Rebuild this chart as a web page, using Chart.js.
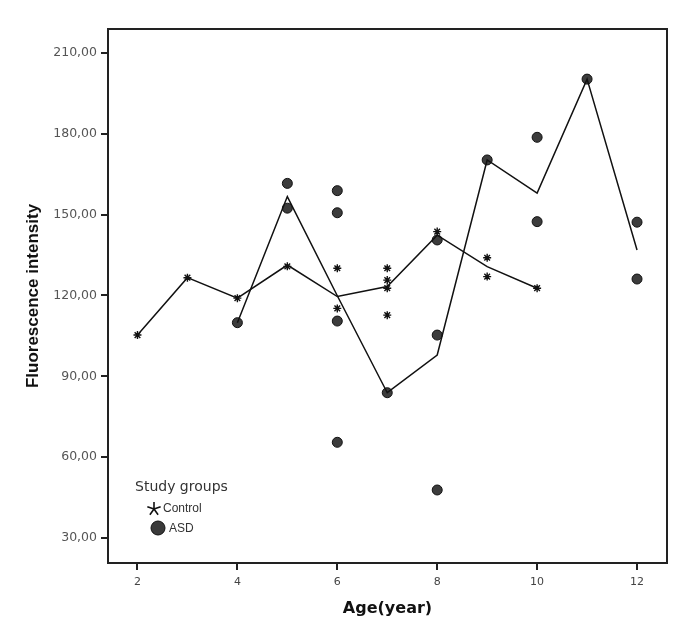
<!DOCTYPE html>
<html>
<head>
<meta charset="utf-8">
<script src="https://cdn.jsdelivr.net/npm/chart.js@4.4.1/dist/chart.umd.min.js"></script>
<style>
html,body{margin:0;padding:0;background:#fff;}
#wrap{width:685px;height:638px;}
</style>
</head>
<body>
<div id="wrap"><canvas id="c" width="685" height="638"></canvas></div>
<script>
// ---- data ----
const xTicks = [2, 4, 6, 8, 10, 12];
const yTicks = [30, 60, 90, 120, 150, 180, 210];

const controlAges   = [2, 3, 4, 5, 6, 6, 7, 7, 7, 7, 8, 9, 9, 10];
const controlValues = [105.3, 126.6, 119.0, 130.8, 130.1, 115.2, 130.1, 125.7, 122.7, 112.7, 143.7, 134.0, 127.0, 122.7];

const asdAges   = [4, 5, 5, 6, 6, 6, 6, 7, 8, 8, 8, 9, 10, 10, 11, 12, 12];
const asdValues = [109.9, 161.6, 152.4, 158.9, 150.7, 110.5, 65.5, 83.9, 140.6, 105.3, 47.8, 170.3, 178.7, 147.4, 200.3, 147.2, 126.1];

const controlMeanAges   = [2, 3, 4, 5, 6, 7, 8, 9, 10];
const controlMeanValues = [105.3, 126.6, 119.0, 131.3, 119.6, 123.3, 142.4, 130.7, 122.7];

const asdMeanAges   = [4, 5, 6, 7, 8, 9, 10, 11, 12];
const asdMeanValues = [109.9, 156.7, 119.9, 83.9, 97.9, 170.3, 158.0, 200.3, 136.9];

const legendTitle = 'Study groups';
const legendLabels = ['Control', 'ASD'];
const xTitle = 'Age(year)';
const yTitle = 'Fluorescence intensity';

const pts = (xs, ys) => xs.map((x, i) => ({x: x, y: ys[i]}));

const FONT = 'Arial, "Liberation Sans", sans-serif';
const WIDE = '"DejaVu Sans", Verdana, sans-serif';

const framePlugin = {
  id: 'frame',
  afterDatasetsDraw(chart) {
    const {ctx, chartArea: a} = chart;
    ctx.save();
    ctx.strokeStyle = '#222';
    ctx.lineWidth = 2;
    ctx.strokeRect(a.left, a.top, a.right - a.left, a.bottom - a.top);
    ctx.restore();
  }
};

const legendPlugin = {
  id: 'customLegend',
  afterDatasetsDraw(chart) {
    const {ctx, chartArea: a} = chart;
    ctx.save();
    ctx.fillStyle = '#333';
    ctx.textBaseline = 'middle';
    ctx.textAlign = 'left';
    ctx.font = '14px ' + WIDE;
    ctx.fillText(legendTitle, a.left + 27, a.top + 458);
    // star marker
    const sx = a.left + 46, sy = a.top + 480;
    ctx.strokeStyle = '#111';
    ctx.lineWidth = 1.6;
    ctx.beginPath();
    for (let k = 0; k < 5; k++) {
      const ang = -Math.PI / 2 + k * 2 * Math.PI / 5;
      ctx.moveTo(sx, sy);
      ctx.lineTo(sx + 7 * Math.cos(ang), sy + 7 * Math.sin(ang));
    }
    ctx.stroke();
    ctx.fillStyle = '#333';
    ctx.font = '12px ' + FONT;
    ctx.fillText(legendLabels[0], a.left + 55, a.top + 480);
    // circle marker
    ctx.beginPath();
    ctx.arc(a.left + 50, a.top + 499, 7, 0, Math.PI * 2);
    ctx.fillStyle = '#3a3a3a';
    ctx.fill();
    ctx.strokeStyle = '#111';
    ctx.lineWidth = 1;
    ctx.stroke();
    ctx.fillStyle = '#333';
    ctx.fillText(legendLabels[1], a.left + 61, a.top + 500);
    ctx.restore();
  }
};

new Chart(document.getElementById('c'), {
  type: 'scatter',
  data: {
    datasets: [
      {
        label: 'Control mean',
        data: pts(controlMeanAges, controlMeanValues),
        showLine: true,
        borderColor: '#111',
        borderWidth: 1.5,
        pointRadius: 0,
        fill: false,
        tension: 0
      },
      {
        label: 'ASD mean',
        data: pts(asdMeanAges, asdMeanValues),
        showLine: true,
        borderColor: '#111',
        borderWidth: 1.5,
        pointRadius: 0,
        fill: false,
        tension: 0
      },
      {
        label: legendLabels[0],
        data: pts(controlAges, controlValues),
        pointStyle: 'star',
        pointRadius: 4,
        borderColor: '#111',
        borderWidth: 1.4,
        backgroundColor: '#111'
      },
      {
        label: legendLabels[1],
        data: pts(asdAges, asdValues),
        pointStyle: 'circle',
        pointRadius: 5,
        borderColor: '#111',
        borderWidth: 1,
        backgroundColor: '#3c3c3c'
      }
    ]
  },
  options: {
    responsive: false,
    animation: false,
    devicePixelRatio: 1,
    layout: {padding: {top: 29, right: 18, left: 0, bottom: 0}},
    plugins: {legend: {display: false}, tooltip: {enabled: false}},
    scales: {
      x: {
        type: 'linear',
        min: 1.41,
        max: 12.6,
        afterBuildTicks: s => { s.ticks = xTicks.map(v => ({value: v})); },
        afterFit: s => { s.height = 75; },
        grid: {display: true, drawOnChartArea: false, drawTicks: true, tickLength: 7, color: '#222', lineWidth: 2},
        border: {display: true, color: '#222', width: 2},
        ticks: {color: '#444', font: {family: WIDE, size: 11}, padding: 6, maxRotation: 0,
          callback: v => String(v)},
        title: {display: true, text: xTitle, color: '#111', font: {family: WIDE, size: 16, weight: 'bold'}, padding: {top: 4, bottom: 20}}
      },
      y: {
        type: 'linear',
        min: 20.7,
        max: 218.9,
        afterBuildTicks: s => { s.ticks = yTicks.map(v => ({value: v})); },
        afterFit: s => { s.width = 108; },
        grid: {display: true, drawOnChartArea: false, drawTicks: true, tickLength: 7, color: '#222', lineWidth: 2},
        border: {display: true, color: '#222', width: 2},
        ticks: {color: '#555', font: {family: WIDE, size: 12.5}, padding: 4,
          callback: v => v.toFixed(2).replace('.', ',')},
        title: {display: true, text: yTitle, color: '#111', font: {family: FONT, size: 17, weight: 'bold'}, padding: {top: 23, bottom: 4}}
      }
    }
  },
  plugins: [framePlugin, legendPlugin]
});
</script>
</body>
</html>
